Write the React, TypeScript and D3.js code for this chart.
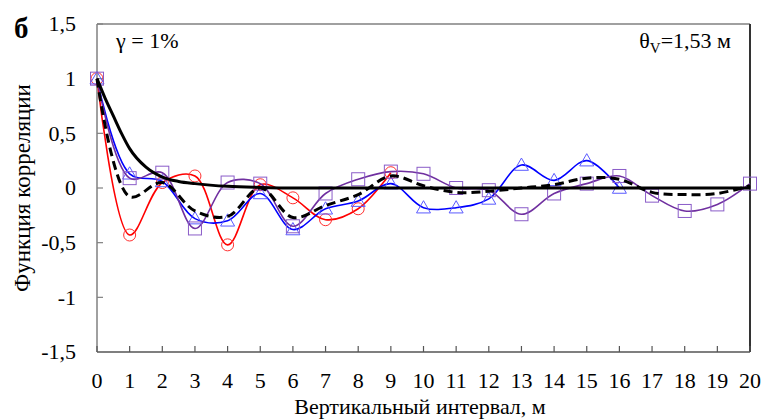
import React, { useEffect, useState } from "react";
import * as d3 from "d3";

const xTicks = d3.range(0, 21);
const yTicks = [1.5, 1, 0.5, 0, -0.5, -1, -1.5];

const redX = [0, 1, 2, 3, 4, 5, 6, 7, 8, 9];
const redY = [1, -0.43, 0.05, 0.11, -0.52, 0.03, -0.09, -0.29, -0.19, 0.14];

const blueX = [0, 1, 2, 3, 4, 5, 6, 7, 8, 9, 10, 11, 12, 13, 14, 15, 16];
const blueY = [1, 0.13, 0.06, -0.28, -0.3, -0.05, -0.38, -0.19, -0.12, 0.04, -0.18, -0.18, -0.1, 0.21, 0.07, 0.25, 0.0];

const purpleX = d3.range(0, 21);
const purpleY = [1, 0.09, 0.14, -0.37, 0.05, 0.04, -0.35, -0.05, 0.08, 0.15, 0.13, 0.0, -0.02, -0.24, -0.05, 0.04, 0.11, -0.07, -0.21, -0.15, 0.04];

const meanX = d3.range(0, 21);
const meanY = [1, -0.08, 0.05, -0.21, -0.26, 0.0, -0.27, -0.16, -0.06, 0.11, 0.02, -0.04, -0.03, 0.0, 0.03, 0.09, 0.08, -0.04, -0.06, -0.05, 0.02];

const thX = [0, 0.25, 0.5, 0.75, 1, 1.5, 2, 2.5, 3, 4, 5, 6, 8, 10, 12, 14, 16, 18, 20];
const thY = [1, 0.82, 0.66, 0.5, 0.36, 0.19, 0.1, 0.06, 0.04, 0.015, 0.005, 0, 0, 0, 0, 0, 0, 0, 0];

const W = 763, H = 419;
const L = 97, R = 750, T = 24, B = 352;
const FF = "'Times New Roman'";

export default function App() {
  const [, setTick] = useState(0);
  useEffect(() => {
    const f: any = (document as any).fonts;
    if (f && f.load) {
      Promise.all([f.load(`22px ${FF}`), f.load(`bold 29px ${FF}`)]).then(() => setTick(t => t + 1)).catch(() => {});
    }
  }, []);

  const x = d3.scaleLinear().domain([0, 20]).range([L, R]);
  const y = d3.scaleLinear().domain([-1.5, 1.5]).range([B, T]);
  const smooth = d3.line<[number, number]>().x(d => x(d[0])).y(d => y(d[1])).curve(d3.curveCatmullRom.alpha(0.5));
  const mono = d3.line<[number, number]>().x(d => x(d[0])).y(d => y(d[1])).curve(d3.curveMonotoneX);
  const zip = (a: number[], b: number[]) => a.map((v, i) => [v, b[i]] as [number, number]);

  const red = zip(redX, redY);
  const blue = zip(blueX, blueY);
  const purple = zip(purpleX, purpleY);
  const mean = zip(meanX, meanY);
  const th = zip(thX, thY);

  const tri = (cx: number, cy: number, s = 7) => `M${cx},${cy - s}L${cx + s},${cy + s * 0.75}L${cx - s},${cy + s * 0.75}Z`;
  const txt = { fontFamily: FF };

  return (
    <svg width={W} height={H} style={{ position: "absolute", left: 0, top: 0 }}>
      <rect width={W} height={H} fill="#fff" />
      <line x1={L} y1={T} x2={R} y2={T} stroke="#808080" strokeWidth={1.5} />
      <line x1={L} y1={T} x2={L} y2={B} stroke="#808080" strokeWidth={1.5} />
      <line x1={R} y1={T} x2={R} y2={B} stroke="#333" strokeWidth={2} />
      <line x1={L} y1={B} x2={R} y2={B} stroke="#555" strokeWidth={1.5} />
      {yTicks.map(t => (
        <g key={"y" + t}>
          <line x1={L} x2={L + 6} y1={y(t)} y2={y(t)} stroke="#808080" strokeWidth={1.2} />
          <text style={txt} fontFamily={FF} x={76} y={y(t)} dy="0.33em" textAnchor="end" fontSize={22}>{String(t).replace(".", ",")}</text>
        </g>
      ))}
      {xTicks.map(t => (
        <g key={"x" + t}>
          <line x1={x(t)} x2={x(t)} y1={B} y2={B - 6} stroke="#555" strokeWidth={1.2} />
          <text style={txt} fontFamily={FF} x={x(t)} y={381} dy="0.33em" textAnchor="middle" fontSize={22}>{t}</text>
        </g>
      ))}
      <text style={txt} fontFamily={FF} x={420} y={407} dy="0.33em" textAnchor="middle" fontSize={22}>Вертикальный интервал, м</text>
      <text style={txt} fontFamily={FF} transform={`translate(22,188) rotate(-90)`} dy="0.33em" textAnchor="middle" fontSize={23}>Функция корреляции</text>
      <text style={txt} fontFamily={FF} x={14} y={38} fontSize={29} fontWeight="bold">б</text>
      <text style={txt} fontFamily={FF} x={116} y={48} fontSize={22}>γ = 1%</text>
      <text style={txt} fontFamily={FF} x={731} y={48} textAnchor="end" fontSize={22}>θ<tspan fontSize={15} dy={5}>V</tspan><tspan dy={-5}>=1,53 м</tspan></text>

      <path d={smooth(red)!} fill="none" stroke="#ff0000" strokeWidth={1.6} />
      {red.map((d, i) => (
        <circle key={"r" + i} cx={x(d[0])} cy={y(d[1])} r={6} fill="none" stroke="#ff3030" strokeWidth={1} />
      ))}
      <path d={smooth(blue)!} fill="none" stroke="#0000ff" strokeWidth={1.6} />
      {blue.map((d, i) => (
        <path key={"b" + i} d={tri(x(d[0]), y(d[1]))} fill="none" stroke="#5a5aff" strokeWidth={1} />
      ))}
      <path d={smooth(purple)!} fill="none" stroke="#7030a0" strokeWidth={1.6} />
      {purple.map((d, i) => (
        <rect key={"p" + i} x={x(d[0]) - 6.5} y={y(d[1]) - 6.5} width={13} height={13} fill="none" stroke="#8a5cc8" strokeWidth={1} />
      ))}
      <path d={mono(th)!} fill="none" stroke="#000" strokeWidth={3} />
      <path d={smooth(mean)!} fill="none" stroke="#000" strokeWidth={3} strokeDasharray="9,5" />
    </svg>
  );
}
